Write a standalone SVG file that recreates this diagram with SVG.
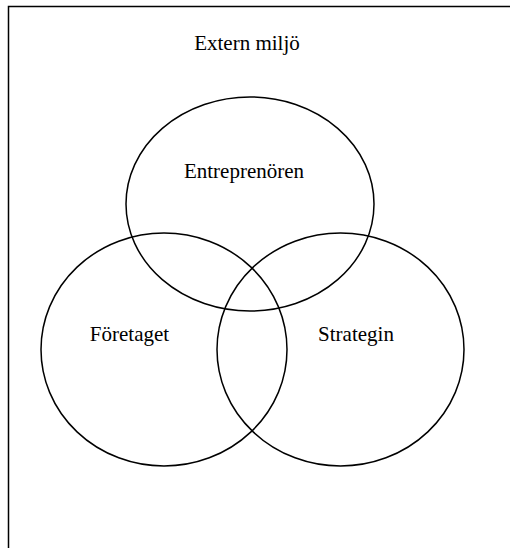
<svg xmlns="http://www.w3.org/2000/svg" width="510" height="548" viewBox="0 0 510 548">
  <style>
    .frame { fill: none; stroke: #000; stroke-width: 1.5; }
    .set { fill: none; stroke: #000; stroke-width: 1.5; }
    .label { font-family: "Liberation Serif", "Times New Roman", serif; font-size: 21px; fill: #000; text-anchor: middle; }
  </style>
  <rect width="510" height="548" fill="#fff"/>

  <!-- surrounding environment frame -->
  <g id="extern-miljo">
    <path class="frame" d="M8.5 560 V6.5 H520"/>
    <text class="label" x="247" y="50">Extern miljö</text>
  </g>

  <g id="entreprenoren">
    <ellipse class="set" cx="250" cy="204" rx="124" ry="107"/>
    <text class="label" x="244" y="178">Entreprenören</text>
  </g>

  <g id="foretaget">
    <ellipse class="set" cx="164" cy="349.5" rx="123" ry="116.5"/>
    <text class="label" x="129.5" y="341">Företaget</text>
  </g>

  <g id="strategin">
    <ellipse class="set" cx="340.5" cy="349.5" rx="123.5" ry="116.5"/>
    <text class="label" x="356" y="341">Strategin</text>
  </g>

  <g id="connectors"></g>
</svg>
